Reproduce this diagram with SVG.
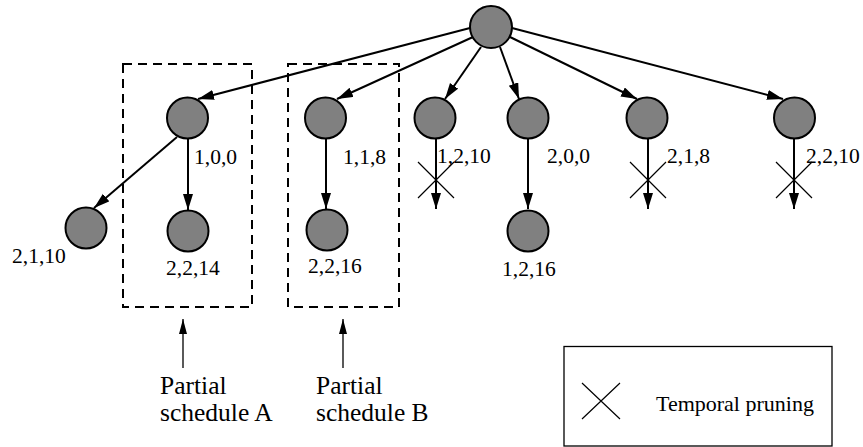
<svg xmlns="http://www.w3.org/2000/svg" width="863" height="447" viewBox="0 0 863 447">
<defs>
<marker id="ah" markerUnits="userSpaceOnUse" markerWidth="17" markerHeight="11" refX="16" refY="5" orient="auto">
<path d="M0,0 L16,5 L0,10 z" fill="#000"/>
</marker>
<marker id="ah2" markerUnits="userSpaceOnUse" markerWidth="16" markerHeight="9" refX="15" refY="4" orient="auto">
<path d="M0,0 L15,4 L0,8 z" fill="#000"/>
</marker>
</defs>
<style>
.n{fill:#808080;stroke:#000;stroke-width:2}
.e{stroke:#000;stroke-width:2;fill:none;marker-end:url(#ah)}
.p{stroke:#000;stroke-width:1.3;fill:none;marker-end:url(#ah2)}
.x{stroke:#000;stroke-width:1.2;fill:none}
.box{fill:none;stroke:#000;stroke-width:2;stroke-dasharray:9 6}
text{font-family:'Liberation Serif','DejaVu Serif',serif;fill:#000}
.lab{font-size:21.5px}
.big{font-size:25.5px}
.leg{font-size:22px}
</style>
<rect width="863" height="447" fill="#fff"/>
<g id="boxes">
<rect class="box" x="123" y="64" width="129" height="243"/>
<rect class="box" x="288" y="64" width="111" height="243"/>
</g>
<g id="connectors">
<line class="e" x1="470" y1="28" x2="198" y2="99"/>
<line class="e" x1="473" y1="37" x2="337" y2="99"/>
<line class="e" x1="481" y1="47" x2="445" y2="99"/>
<line class="e" x1="500" y1="47" x2="519" y2="99"/>
<line class="e" x1="510" y1="37" x2="637" y2="99"/>
<line class="e" x1="512" y1="28" x2="783" y2="99"/>
<line class="e" x1="177" y1="137" x2="94" y2="208"/>
<line class="e" x1="188" y1="139" x2="188" y2="210"/>
<line class="e" x1="326" y1="139" x2="326" y2="209"/>
<line class="e" x1="436" y1="139" x2="436" y2="209"/>
<line class="e" x1="528" y1="139" x2="528" y2="209"/>
<line class="e" x1="648" y1="139" x2="648" y2="209"/>
<line class="e" x1="794" y1="139" x2="794" y2="209"/>
<line class="p" x1="183" y1="368" x2="183" y2="319"/>
<line class="p" x1="343" y1="368" x2="343" y2="319"/>
</g>
<g id="prune-marks">
<path class="x" d="M418,162 L454,198 M454,162 L418,198"/>
<path class="x" d="M630,162 L666,198 M666,162 L630,198"/>
<path class="x" d="M776,162 L812,198 M812,162 L776,198"/>
</g>
<g id="root"><circle class="n" cx="491" cy="27" r="21"/></g>
<g id="n-100"><circle class="n" cx="187.5" cy="118" r="20.5"/><text class="lab" x="194" y="164">1,0,0</text></g>
<g id="n-118"><circle class="n" cx="325.5" cy="118" r="20.5"/><text class="lab" x="343" y="164">1,1,8</text></g>
<g id="n-1210"><circle class="n" cx="435" cy="118" r="20.5"/><text class="lab" x="437" y="163">1,2,10</text></g>
<g id="n-200"><circle class="n" cx="528" cy="118" r="20.5"/><text class="lab" x="547" y="163">2,0,0</text></g>
<g id="n-218"><circle class="n" cx="647" cy="118" r="20.5"/><text class="lab" x="667" y="163">2,1,8</text></g>
<g id="n-2210"><circle class="n" cx="794.5" cy="118" r="20.5"/><text class="lab" x="806" y="163">2,2,10</text></g>
<g id="n-2110"><circle class="n" cx="86" cy="228" r="20.5"/><text class="lab" x="12" y="263">2,1,10</text></g>
<g id="n-2214"><circle class="n" cx="188" cy="231" r="20.5"/><text class="lab" x="166" y="275">2,2,14</text></g>
<g id="n-2216"><circle class="n" cx="327" cy="230" r="20.5"/><text class="lab" x="308" y="273">2,2,16</text></g>
<g id="n-1216"><circle class="n" cx="528" cy="231" r="20.5"/><text class="lab" x="502" y="276">1,2,16</text></g>
<g id="label-a"><text class="big" x="160" y="394">Partial</text><text class="big" x="160" y="421">schedule A</text></g>
<g id="label-b"><text class="big" x="316" y="394">Partial</text><text class="big" x="316" y="421">schedule B</text></g>
<g id="legend">
<rect x="564" y="346.5" width="268" height="99.5" fill="none" stroke="#000" stroke-width="1.3"/>
<path class="x" d="M582,383 L620,419 M620,383 L582,419"/>
<text class="leg" x="656" y="411">Temporal pruning</text>
</g>
</svg>
